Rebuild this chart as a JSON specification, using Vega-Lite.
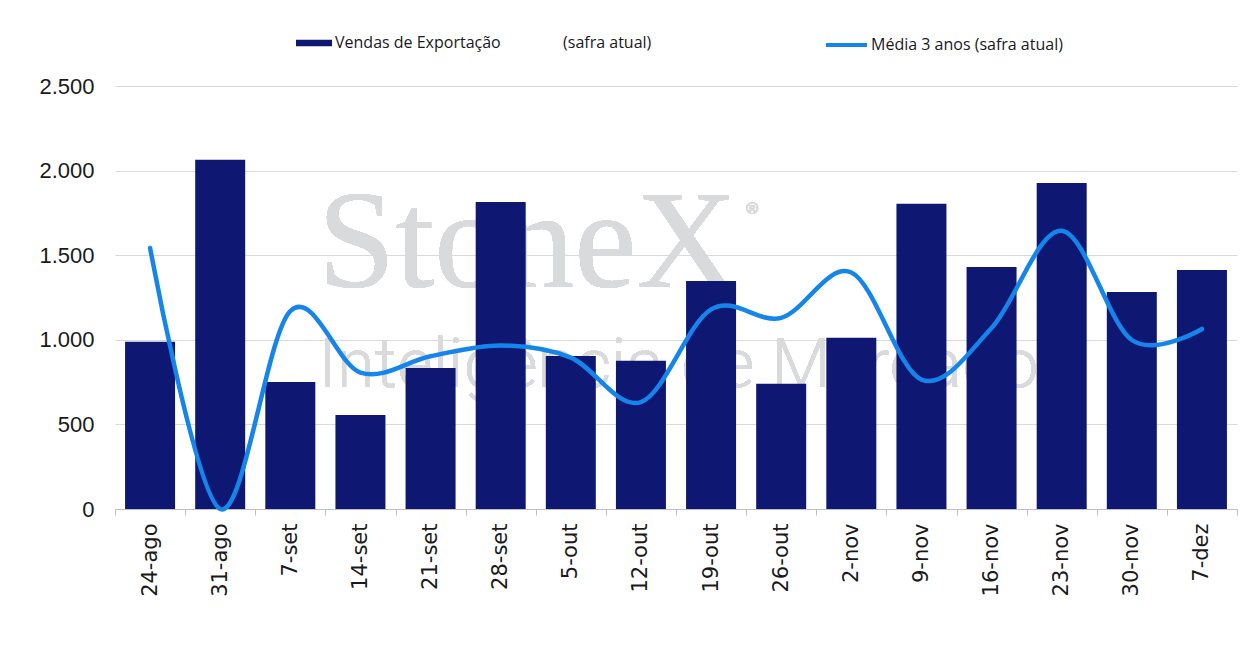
{
  "$schema": "https://vega.github.io/schema/vega-lite/v6.json",
  "width": 1122,
  "height": 423,
  "autosize": {"type": "none"},
  "padding": {"left": 115, "top": 86, "right": 21, "bottom": 143},
  "background": "white",
  "config": {"view": {"stroke": null}},
  "data": {
    "values": [
      {"semana": "24-ago", "vendas": 988, "media": 1543},
      {"semana": "31-ago", "vendas": 2064, "media": 0},
      {"semana": "7-set", "vendas": 750, "media": 1170},
      {"semana": "14-set", "vendas": 556, "media": 806},
      {"semana": "21-set", "vendas": 834, "media": 903},
      {"semana": "28-set", "vendas": 1814, "media": 967},
      {"semana": "5-out", "vendas": 904, "media": 895},
      {"semana": "12-out", "vendas": 876, "media": 632},
      {"semana": "19-out", "vendas": 1348, "media": 1180},
      {"semana": "26-out", "vendas": 740, "media": 1130},
      {"semana": "2-nov", "vendas": 1012, "media": 1398},
      {"semana": "9-nov", "vendas": 1804, "media": 765},
      {"semana": "16-nov", "vendas": 1430, "media": 1070},
      {"semana": "23-nov", "vendas": 1927, "media": 1645},
      {"semana": "30-nov", "vendas": 1283, "media": 999},
      {"semana": "7-dez", "vendas": 1413, "media": 1064}
    ]
  },
  "encoding": {
    "x": {
      "field": "semana",
      "type": "nominal",
      "sort": null,
      "scale": {
        "domain": ["24-ago","31-ago","7-set","14-set","21-set","28-set","5-out","12-out","19-out","26-out","2-nov","9-nov","16-nov","23-nov","30-nov","7-dez"],
        "paddingInner": 0,
        "paddingOuter": 0
      },
      "axis": {
        "title": null,
        "labelAngle": -90,
        "labelFont": "DejaVu Sans",
        "labelFontSize": 21,
        "labelColor": "#1a1a1a",
        "labelPadding": 8,
        "tickBand": "extent",
        "tickSize": 6,
        "tickColor": "#bfbfbf",
        "domainColor": "#bfbfbf",
        "grid": false
      }
    }
  },
  "layer": [
    {
      "mark": {"type": "text", "font": "Liberation Serif", "fontSize": 140, "color": "#d9dadc", "align": "left", "baseline": "alphabetic", "dx": -8},
      "encoding": {
        "x": {"datum": "14-set", "type": "nominal", "bandPosition": 0},
        "y": {"datum": 1312, "type": "quantitative"},
        "text": {"value": "StoneX"}
      }
    },
    {
      "mark": {"type": "text", "font": "Liberation Sans", "fontSize": 16, "color": "#d9dadc", "align": "left", "baseline": "alphabetic"},
      "encoding": {
        "x": {"datum": "26-out", "type": "nominal", "bandPosition": 0},
        "y": {"datum": 1743, "type": "quantitative"},
        "text": {"value": "®"}
      }
    },
    {
      "mark": {"type": "text", "font": "Roboto", "fontWeight": 300, "fontSize": 69, "color": "#d9dadc", "align": "left", "baseline": "alphabetic", "dx": -7},
      "encoding": {
        "x": {"datum": "14-set", "type": "nominal", "bandPosition": 0},
        "y": {"datum": 721, "type": "quantitative"},
        "text": {"value": "Inteligência de Mercado"}
      }
    },
    {
      "mark": {"type": "bar", "width": {"band": 0.713}},
      "encoding": {
        "y": {
          "field": "vendas",
          "type": "quantitative",
          "scale": {"domain": [0, 2500], "nice": false},
          "axis": {
            "title": null,
            "values": [0, 500, 1000, 1500, 2000, 2500],
            "labelExpr": "replace(format(datum.value, ','), ',', '.')",
            "labelFont": "Liberation Sans",
            "labelFontSize": 22,
            "labelColor": "#1a1a1a",
            "labelPadding": 21,
            "domain": false,
            "ticks": false,
            "grid": true,
            "gridColor": "#d9d9d9",
            "gridWidth": 1
          }
        },
        "fill": {
          "datum": "Vendas de Exportação\u00a0\u00a0\u00a0\u00a0\u00a0\u00a0\u00a0\u00a0\u00a0\u00a0\u00a0\u00a0\u00a0\u00a0\u00a0(safra atual)",
          "type": "nominal",
          "scale": {"range": ["#0e1873"]},
          "legend": {
            "title": null,
            "orient": "none",
            "legendX": 181,
            "legendY": -61,
            "padding": 0,
            "symbolType": "M-1,-0.18H1V0.18H-1Z",
            "symbolSize": 1296,
            "symbolStrokeWidth": 0,
            "labelOffset": 3,
            "labelFont": "Open Sans",
            "labelFontSize": 16,
            "labelColor": "#1a1a1a",
            "labelLimit": 600
          }
        }
      }
    },
    {
      "mark": {"type": "line", "interpolate": "cardinal", "strokeWidth": 4.5, "strokeCap": "round"},
      "encoding": {
        "y": {"field": "media", "type": "quantitative"},
        "stroke": {
          "datum": "Média 3 anos (safra atual)",
          "type": "nominal",
          "scale": {"range": ["#1585ec"]},
          "legend": {
            "title": null,
            "orient": "none",
            "legendX": 709,
            "legendY": -63.5,
            "padding": 0,
            "symbolType": "stroke",
            "symbolSize": 1681,
            "symbolStrokeWidth": 4,
            "labelOffset": 2,
            "labelFont": "Open Sans",
            "labelFontSize": 16,
            "labelColor": "#1a1a1a",
            "labelLimit": 600
          }
        }
      }
    }
  ]
}
